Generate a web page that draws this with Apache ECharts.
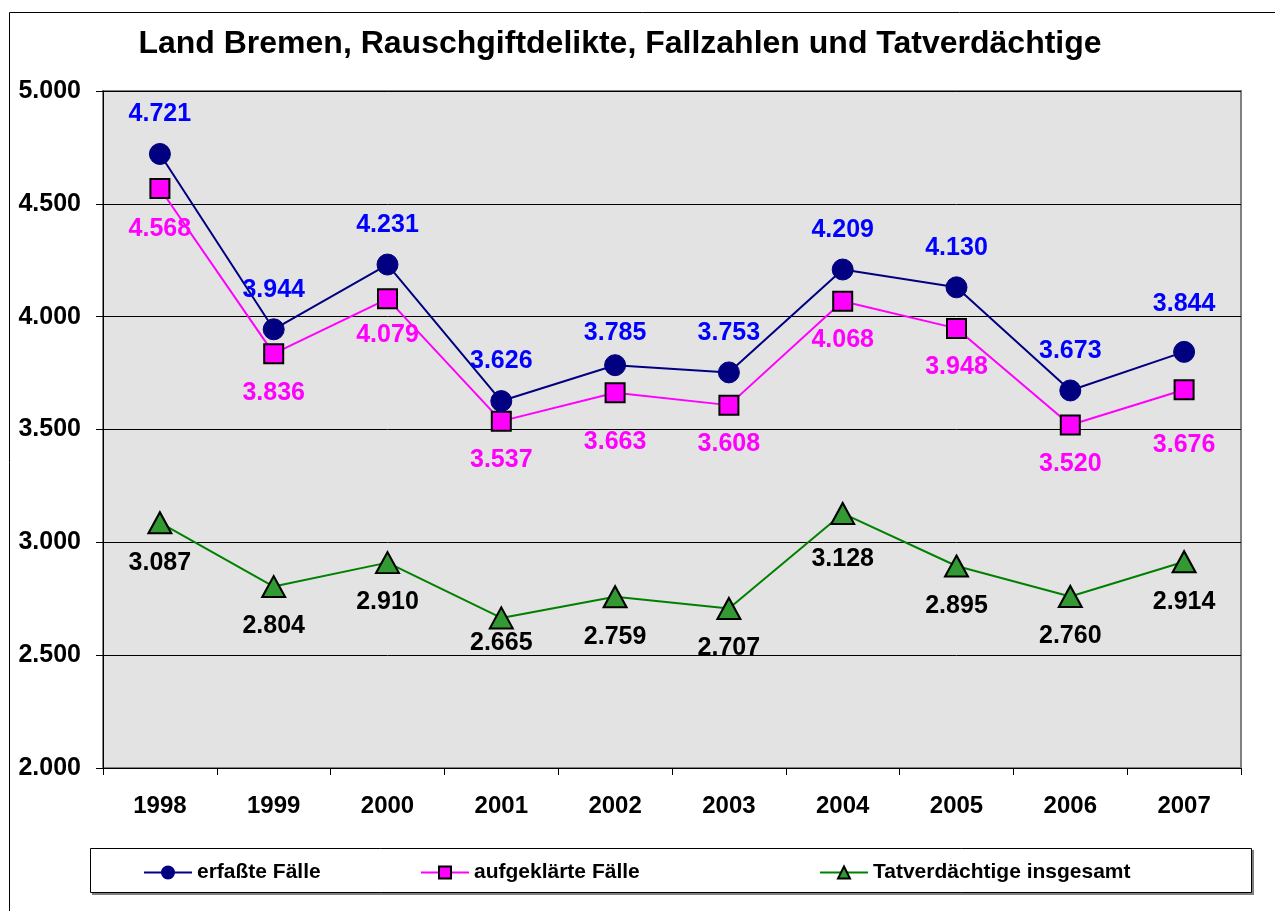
<!DOCTYPE html>
<html>
<head>
<meta charset="utf-8">
<script src="https://cdn.jsdelivr.net/npm/echarts@6/dist/echarts.min.js"></script>
<style>
  html, body { margin: 0; padding: 0; background: #fff; }
  #chart { width: 1275px; height: 911px; }
</style>
</head>
<body>
<div id="chart"></div>
<script>
var years = ['1998', '1999', '2000', '2001', '2002', '2003', '2004', '2005', '2006', '2007'];
var erfasst = [4721, 3944, 4231, 3626, 3785, 3753, 4209, 4130, 3673, 3844];
var aufgeklaert = [4568, 3836, 4079, 3537, 3663, 3608, 4068, 3948, 3520, 3676];
var verdaechtige = [3087, 2804, 2910, 2665, 2759, 2707, 3128, 2895, 2760, 2914];

var FONT = '"Liberation Sans", Arial, sans-serif';

// Tausenderpunkt wie im Original
function fmt(v) {
    return String(v).replace(/\B(?=(\d{3})+(?!\d))/g, '.');
}

// kleine Verschiebungen der Beschriftungen (wie im Excel-Original)
function withShift(values, shifts) {
    return values.map(function (v, i) {
        var dy = shifts[i] || 0;
        return dy ? { value: v, label: { offset: [0, dy] } } : v;
    });
}

var chart = echarts.init(document.getElementById('chart'));

function legendAt(name, left) {
    return {
        data: [name],
        left: left,
        top: 857,
        itemWidth: 48,
        itemHeight: 15,
        selectedMode: false,
        textStyle: { fontFamily: FONT, fontWeight: 'bold', fontSize: 21, color: '#000' }
    };
}

function labelCfg(pos, color) {
    return {
        show: true, position: pos, distance: 16,
        fontFamily: FONT, fontWeight: 'bold', fontSize: 25, color: color,
        formatter: function (p) { return fmt(p.value); }
    };
}

chart.setOption({
    backgroundColor: '#fff',
    animation: false,
    title: {
        text: 'Land Bremen, Rauschgiftdelikte, Fallzahlen und Tatverdächtige',
        left: 615,
        textAlign: 'center',
        top: 23,
        textStyle: { fontFamily: FONT, fontWeight: 'bold', fontSize: 32, color: '#000' }
    },
    graphic: [
        {
            type: 'rect',
            shape: { x: 9.5, y: 12.5, width: 1400, height: 1100 },
            style: { fill: 'none', stroke: '#000', lineWidth: 1 },
            silent: true, z: -10
        },
        {
            type: 'rect',
            shape: { x: 92, y: 850, width: 1162, height: 45 },
            style: { fill: '#808080' },
            silent: true, z: -5
        },
        {
            type: 'rect',
            shape: { x: 90.5, y: 848.5, width: 1161, height: 44 },
            style: { fill: '#fff', stroke: '#000', lineWidth: 1 },
            silent: true, z: -4
        }
    ],
    legend: [
        legendAt('erfaßte Fälle', 138),
        legendAt('aufgeklärte Fälle', 415),
        legendAt('Tatverdächtige insgesamt', 814)
    ],
    grid: {
        left: 103, right: 34, top: 91, bottom: 143,
        show: true,
        backgroundColor: '#e3e3e3',
        borderColor: '#808080',
        borderWidth: 2
    },
    xAxis: {
        type: 'category',
        data: years,
        boundaryGap: true,
        axisLine: { lineStyle: { color: '#000', width: 1 } },
        axisTick: { show: true, length: 7, inside: false, lineStyle: { color: '#000' } },
        axisLabel: { margin: 26, fontFamily: FONT, fontWeight: 'bold', fontSize: 24, color: '#000' }
    },
    yAxis: {
        type: 'value',
        min: 2000, max: 5000, interval: 500,
        axisLine: { show: true, lineStyle: { color: '#000', width: 1 } },
        axisTick: { show: true, length: 7, lineStyle: { color: '#000' } },
        splitLine: { show: true, lineStyle: { color: '#000', width: 1 } },
        axisLabel: {
            margin: 22, fontFamily: FONT, fontWeight: 'bold', fontSize: 25, color: '#000',
            formatter: fmt
        }
    },
    series: [
        {
            name: 'erfaßte Fälle',
            type: 'line',
            data: withShift(erfasst, [0, 0, 0, 0, 7, 0, 0, 0, 0, -8]),
            symbol: 'circle',
            symbolSize: 21,
            lineStyle: { color: '#000080', width: 2 },
            itemStyle: { color: '#000080', borderColor: '#000080', borderWidth: 1 },
            label: labelCfg('top', '#0000ff'),
            z: 4
        },
        {
            name: 'aufgeklärte Fälle',
            type: 'line',
            data: withShift(aufgeklaert, [2, 0, -3, 0, 10, 0, 0, 0, 0, 16]),
            symbol: 'rect',
            symbolSize: 19,
            lineStyle: { color: '#ff00ff', width: 2 },
            itemStyle: { color: '#ff00ff', borderColor: '#000', borderWidth: 2 },
            label: labelCfg('bottom', '#ff00ff'),
            z: 3
        },
        {
            name: 'Tatverdächtige insgesamt',
            type: 'line',
            data: withShift(verdaechtige, [0, 0, 0, -15, 0, 0, 6, 0, 0, 0]),
            symbol: 'triangle',
            symbolSize: [23, 21],
            lineStyle: { color: '#008000', width: 2 },
            itemStyle: { color: '#339933', borderColor: '#000', borderWidth: 2 },
            label: labelCfg('bottom', '#000'),
            z: 2
        }
    ]
});
</script>
</body>
</html>
